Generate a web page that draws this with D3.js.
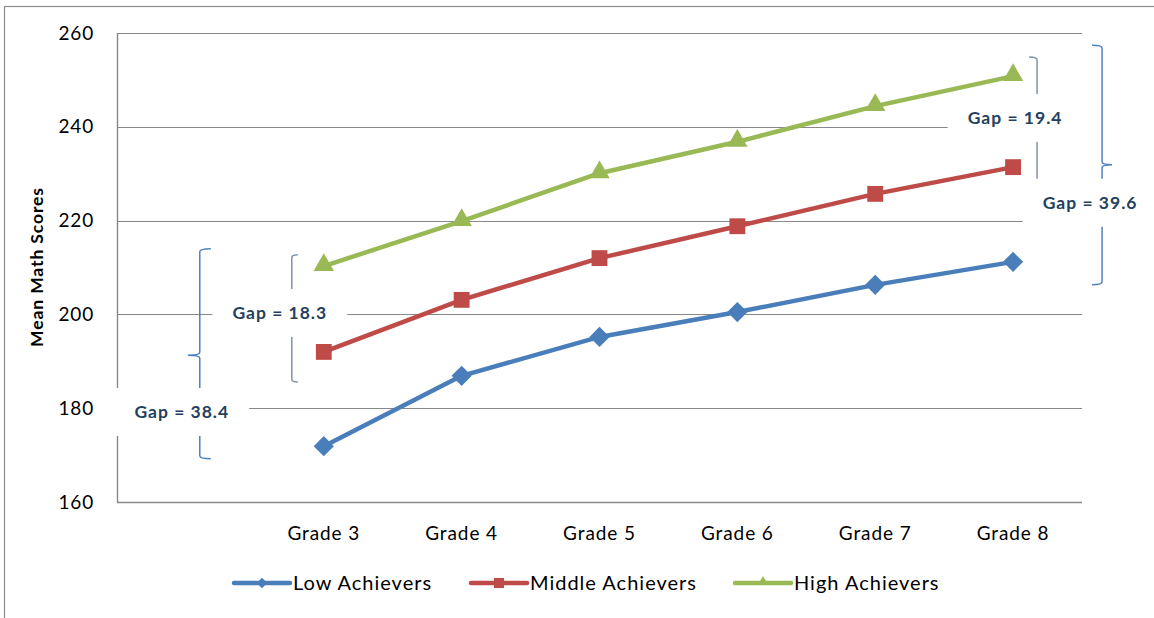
<!DOCTYPE html>
<html>
<head>
<meta charset="utf-8">
<script src="https://cdn.jsdelivr.net/npm/d3@7"></script>
<style>
  body { margin: 0; background: #fff; }
  text { font-family: Lato, "Open Sans", sans-serif; }
</style>
</head>
<body>
<div id="chart"></div>
<script>
// categories (first slot is left blank in the original)
const grades = ["", "Grade 3", "Grade 4", "Grade 5", "Grade 6", "Grade 7", "Grade 8"];
const yTicks = [160, 180, 200, 220, 240, 260];

const lowScores = [171.9, 186.9, 195.2, 200.5, 206.3, 211.2];
const middleScores = [192.0, 203.1, 212.0, 218.8, 225.7, 231.4];
const highScores = [210.3, 219.9, 230.1, 236.8, 244.4, 250.8];

const seriesNames = ["Low Achievers", "Middle Achievers", "High Achievers"];

// gap annotations (spans in score units)
const gapLabels = ["Gap = 18.3", "Gap = 38.4", "Gap = 19.4", "Gap = 39.6"];
const gapGrades = ["Grade 3", "Grade 3", "Grade 8", "Grade 8"];
const gapTop = [212.7, 214.0, 254.9, 257.4];
const gapBottom = [185.6, 169.2, 225.9, 206.3];
const gapMid = [null, 191.3, null, 231.9];
const gapLabelAt = [200.3, 179.2, 241.9, 223.8];

const W = 1154, H = 618;
const margin = { top: 33, right: 72, bottom: 116, left: 117 };

const svg = d3.select("#chart").append("svg")
    .attr("width", W)
    .attr("height", H);

// outer chart border
svg.append("rect")
    .attr("x", 4.5).attr("y", 6.5)
    .attr("width", W + 10).attr("height", H + 10)
    .attr("fill", "none")
    .attr("stroke", "#8c8c8c")
    .attr("stroke-width", 1.2);

let x = d3.scaleBand()
    .domain(grades)
    .range([margin.left, W - margin.right]);

let y = d3.scaleLinear()
    .domain([160, 260])
    .range([H - margin.bottom, margin.top]);

const cx = d => x(d) + x.bandwidth() / 2;

// gridlines
svg.append("g")
    .selectAll("line")
    .data(yTicks)
    .enter().append("line")
    .attr("x1", margin.left)
    .attr("x2", W - margin.right)
    .attr("y1", d => Math.round(y(d)) + 0.5)
    .attr("y2", d => Math.round(y(d)) + 0.5)
    .attr("stroke", "#888")
    .attr("stroke-width", d => d === 160 ? 1.6 : 1.2);

// left axis line
svg.append("line")
    .attr("x1", margin.left + 0.5).attr("x2", margin.left + 0.5)
    .attr("y1", y(260)).attr("y2", y(160) + 0.5)
    .attr("stroke", "#888")
    .attr("stroke-width", 1.4);

// y tick labels
svg.append("g")
    .selectAll("text")
    .data(yTicks)
    .enter().append("text")
    .attr("x", 94)
    .attr("y", d => y(d))
    .attr("dy", "0.35em")
    .attr("text-anchor", "end")
    .style("font-size", "19px")
    .style("letter-spacing", "0.8px")
    .attr("fill", "#000")
    .text(d => d);

// y title
svg.append("text")
    .attr("transform", "translate(43," + 267 + ") rotate(-90)")
    .attr("text-anchor", "middle")
    .style("font-size", "17.5px")
    .style("font-weight", "bold")
    .style("letter-spacing", "0.9px")
    .text("Mean Math Scores");

// x labels
svg.append("g")
    .selectAll("text")
    .data(grades)
    .enter().append("text")
    .attr("x", d => cx(d))
    .attr("y", 533)
    .attr("dy", "0.35em")
    .attr("text-anchor", "middle")
    .style("font-size", "19px")
    .style("letter-spacing", "0.9px")
    .text(d => d);

const colors = ["#4a7ebb", "#be4b48", "#98b954"];
const symbols = [d3.symbolDiamond2, d3.symbolSquare2, d3.symbolTriangle2];
const allSeries = [lowScores, middleScores, highScores];
const cats = grades.slice(1);

// gap brackets (drawn under labels and lines)
const bracketX = [-32, -124, 24, 89];
const hookLen = [6, 11, -8, -10];
const midTick = [0, -12, 0, 10];
const bracketColor = ["#7f93ad", "#4f81bd", "#7f93ad", "#4f81bd"];
const labelDx = [-44, -142, 2, 77];

gapLabels.forEach((lab, i) => {
    let bx = cx(gapGrades[i]) + bracketX[i];
    let t = y(gapTop[i]), b = y(gapBottom[i]);
    let h = hookLen[i];
    let p = d3.path();
    p.moveTo(bx + h, t);
    p.quadraticCurveTo(bx, t, bx, t + 3);
    if (gapMid[i] != null) {
        let m = y(gapMid[i]);
        p.lineTo(bx, m - 3);
        p.quadraticCurveTo(bx, m, bx + midTick[i], m);
        p.moveTo(bx + midTick[i], m);
        p.quadraticCurveTo(bx, m, bx, m + 3);
    }
    p.lineTo(bx, b - 3);
    p.quadraticCurveTo(bx, b, bx + h, b);
    svg.append("path")
        .attr("d", p.toString())
        .attr("fill", "none")
        .attr("stroke", bracketColor[i])
        .attr("stroke-width", 1.5);
});

// label boxes
gapLabels.forEach((lab, i) => {
    let tx = cx(gapGrades[i]) + labelDx[i];
    let ty = y(gapLabelAt[i]);
    let g = svg.append("g");
    let box = g.append("rect").attr("fill", "#fff");
    let t = g.append("text")
        .attr("x", tx)
        .attr("y", ty)
        .attr("dy", "0.35em")
        .attr("text-anchor", "middle")
        .style("font-size", "17.5px")
        .style("font-weight", "bold")
        .style("letter-spacing", "1px")
        .attr("fill", "#243f60")
        .text(lab);
    let w = t.node().getComputedTextLength();
    box.attr("x", tx - w / 2 - 20)
        .attr("y", ty - 24)
        .attr("width", w + 40)
        .attr("height", 48);
});

// lines
const line = d3.line()
    .x((d, i) => cx(cats[i]))
    .y(d => y(d));

allSeries.forEach((s, k) => {
    svg.append("path")
        .datum(s)
        .attr("d", line)
        .attr("fill", "none")
        .attr("stroke", colors[k])
        .attr("stroke-width", 4.5)
        .attr("stroke-linejoin", "round");
});

const markerSize = [260, 320, 300];
allSeries.forEach((s, k) => {
    svg.append("g")
        .selectAll("path")
        .data(s)
        .enter().append("path")
        .attr("d", d3.symbol().type(symbols[k]).size(markerSize[k]))
        .attr("transform", (d, i) => "translate(" + cx(cats[i]) + "," + (y(d) + (k === 2 ? -1 : 0)) + ")")
        .attr("fill", colors[k]);
});

// legend
const legendX = [234, 471, 735];
const legSize = [70, 130, 80];
seriesNames.forEach((n, k) => {
    let g = svg.append("g").attr("transform", "translate(" + legendX[k] + ",583)");
    g.append("line")
        .attr("x1", 0).attr("x2", 56)
        .attr("stroke", colors[k])
        .attr("stroke-width", 4.5)
        .attr("stroke-linecap", "round");
    g.append("path")
        .attr("d", d3.symbol().type(symbols[k]).size(legSize[k]))
        .attr("transform", "translate(28," + (k === 2 ? -1 : 0) + ")")
        .attr("fill", colors[k]);
    g.append("text")
        .attr("x", 59)
        .attr("dy", "0.35em")
        .style("font-size", "20px")
        .style("letter-spacing", "1px")
        .text(n);
});
</script>
</body>
</html>
